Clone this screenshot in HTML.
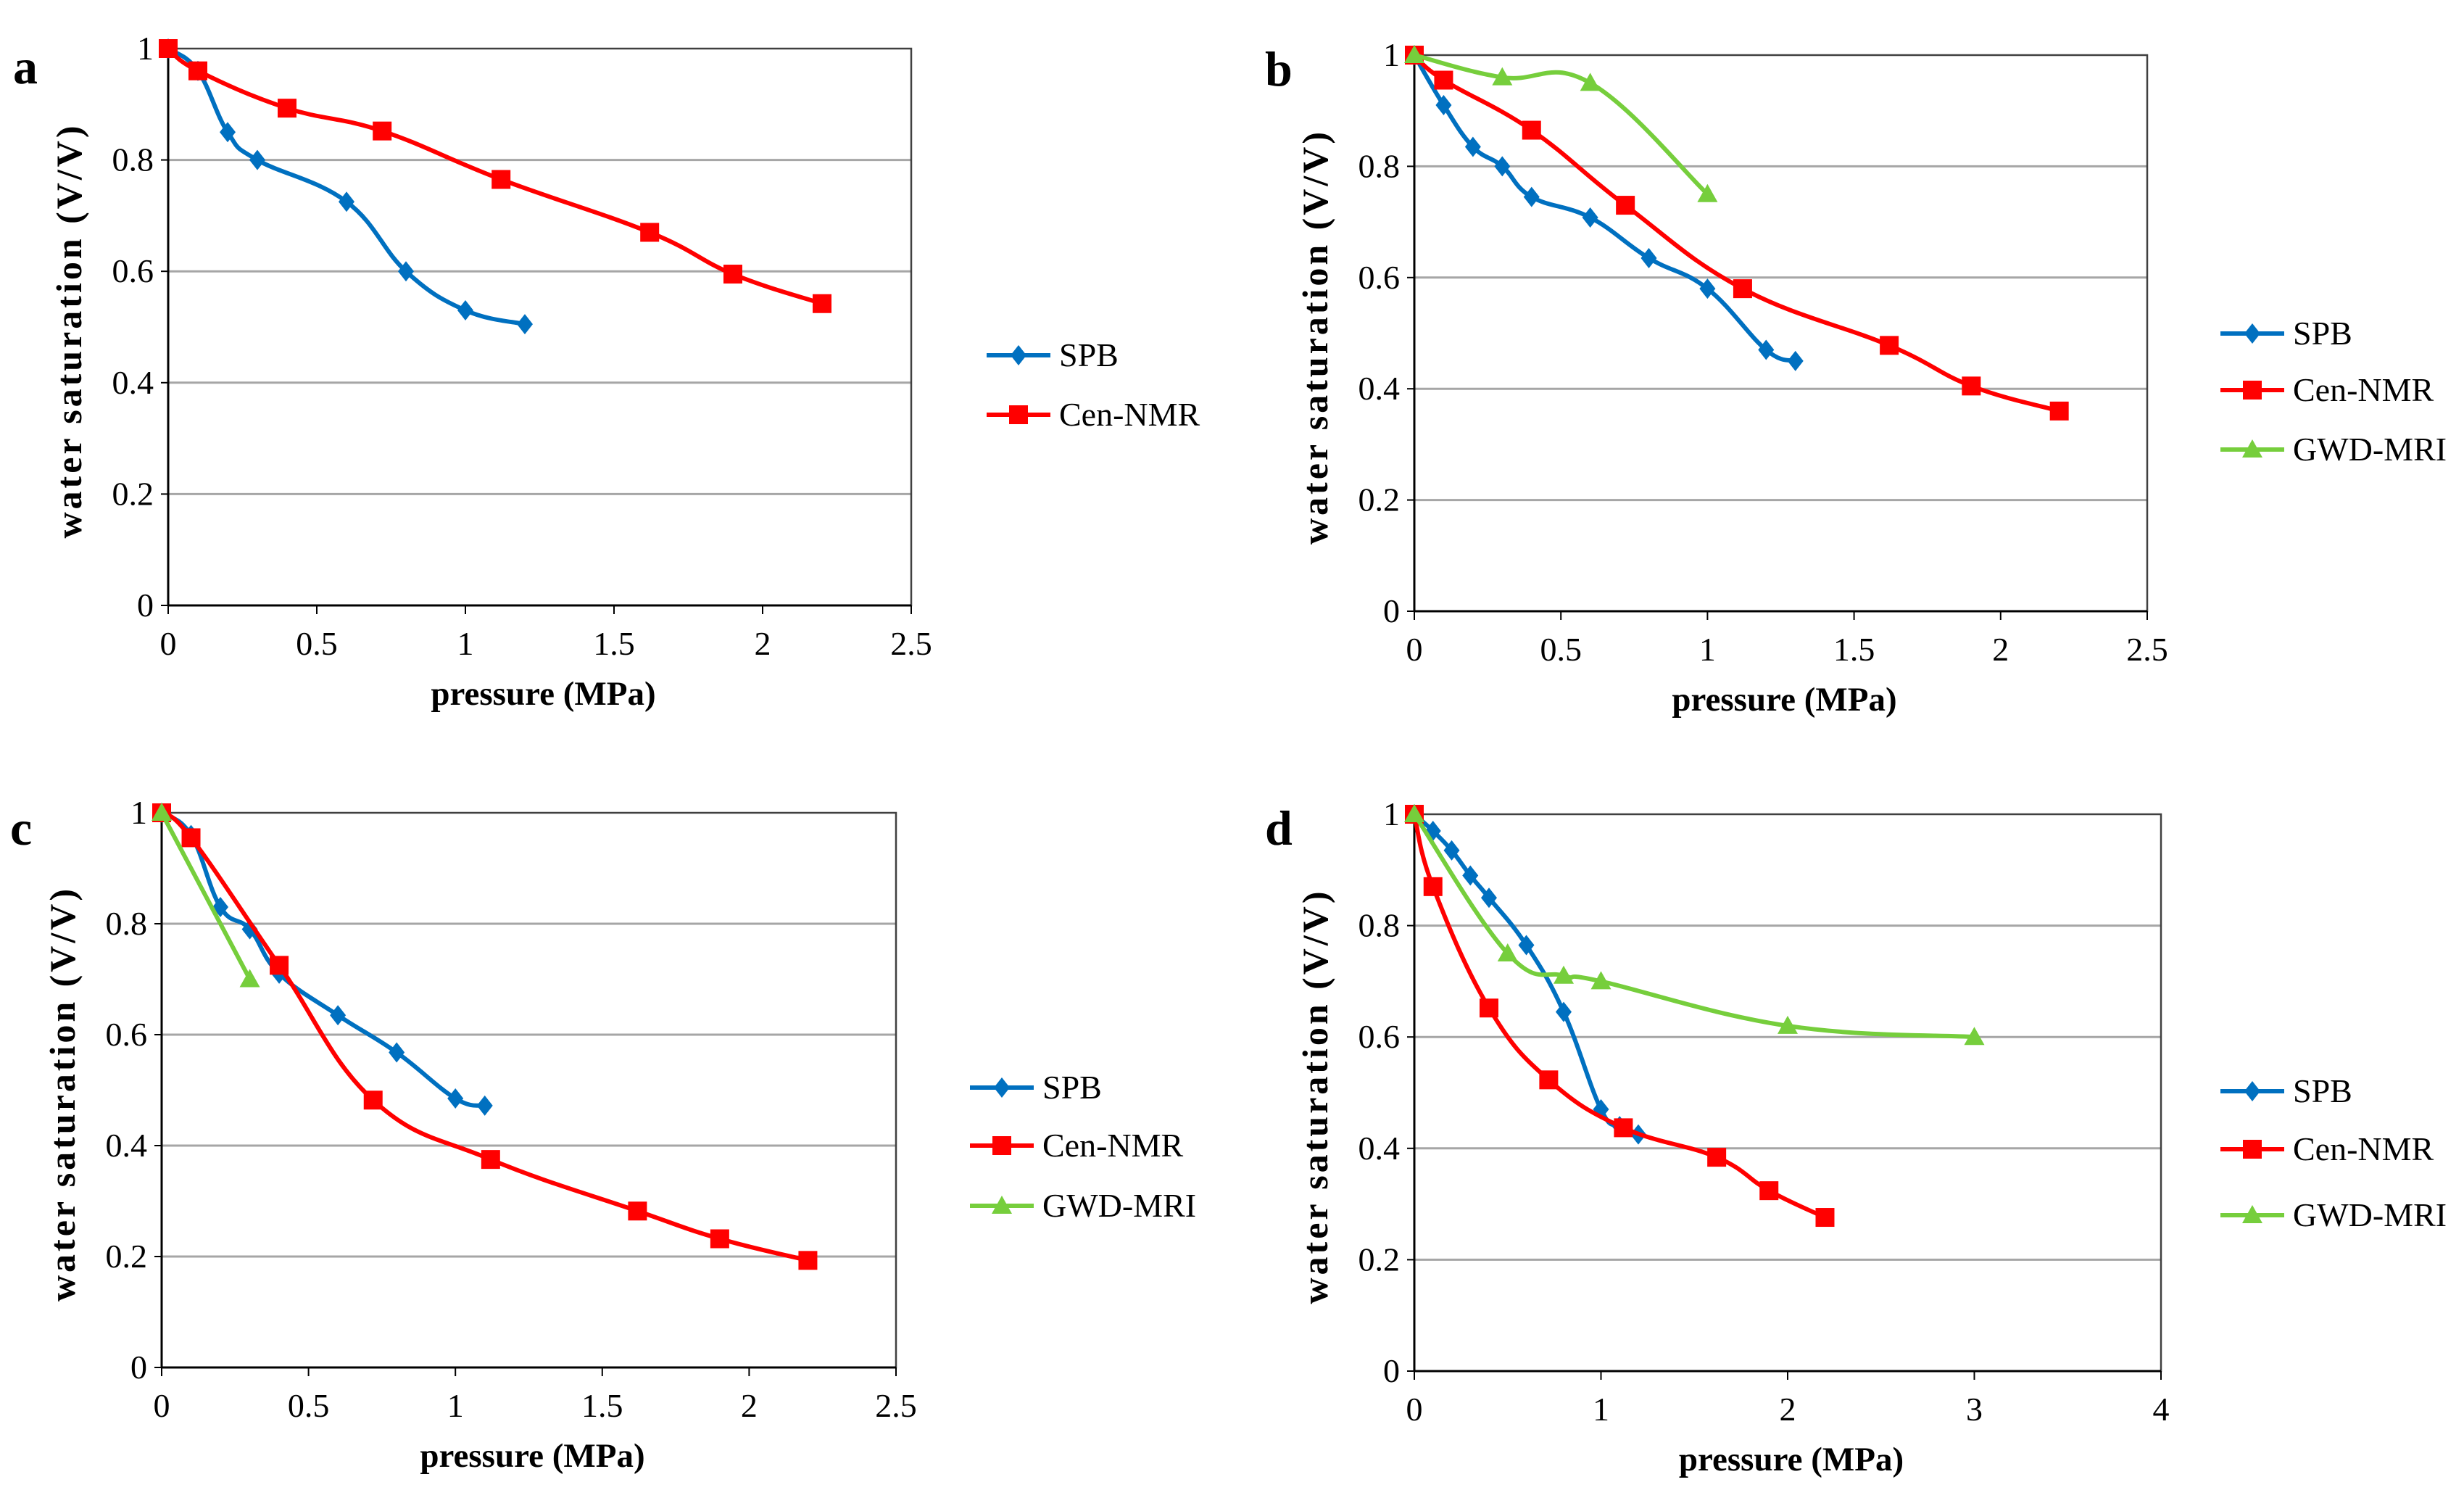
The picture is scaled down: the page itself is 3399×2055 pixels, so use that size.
<!DOCTYPE html>
<html><head><meta charset="utf-8">
<style>
html,body{margin:0;padding:0;background:#fff;}
svg{display:block;font-family:"Liberation Serif",serif;}
</style></head>
<body>
<svg id="fig" width="3399" height="2055" viewBox="0 0 3399 2055" xmlns="http://www.w3.org/2000/svg"></svg>
<script>
// ---- data ----
const aSpbX=[0,0.1,0.2,0.3,0.6,0.8,1.0,1.2];
const aSpbY=[1,0.96,0.85,0.8,0.725,0.6,0.53,0.505];
const aCenX=[0,0.1,0.4,0.72,1.12,1.62,1.9,2.2];
const aCenY=[1,0.96,0.893,0.852,0.765,0.67,0.595,0.542];

const bSpbX=[0,0.1,0.2,0.3,0.4,0.6,0.8,1.0,1.2,1.3];
const bSpbY=[1,0.91,0.835,0.8,0.745,0.708,0.635,0.58,0.47,0.45];
const bCenX=[0,0.1,0.4,0.72,1.12,1.62,1.9,2.2];
const bCenY=[1,0.955,0.865,0.73,0.58,0.478,0.405,0.36];
const bGwdX=[0,0.3,0.6,1.0];
const bGwdY=[1,0.96,0.95,0.75];

const cSpbX=[0,0.1,0.2,0.3,0.4,0.6,0.8,1.0,1.1];
const cSpbY=[1,0.96,0.83,0.79,0.71,0.635,0.568,0.485,0.472];
const cCenX=[0,0.1,0.4,0.72,1.12,1.62,1.9,2.2];
const cCenY=[1,0.955,0.725,0.482,0.375,0.282,0.232,0.193];
const cGwdX=[0,0.3];
const cGwdY=[1,0.7];

const dSpbX=[0,0.1,0.2,0.3,0.4,0.6,0.8,1.0,1.1,1.2];
const dSpbY=[1,0.97,0.935,0.89,0.85,0.765,0.645,0.47,0.44,0.425];
const dCenX=[0,0.1,0.4,0.72,1.12,1.62,1.9,2.2];
const dCenY=[1,0.87,0.652,0.523,0.437,0.384,0.324,0.276];
const dGwdX=[0,0.5,0.8,1.0,2.0,3.0];
const dGwdY=[1,0.75,0.71,0.70,0.62,0.60];

const yTicks=[0,0.2,0.4,0.6,0.8,1];
const yTickLabels=["0","0.2","0.4","0.6","0.8","1"];
const xTicksA=[0,0.5,1,1.5,2,2.5];
const xTickLabelsA=["0","0.5","1","1.5","2","2.5"];
const xTicksD=[0,1,2,3,4];
const xTickLabelsD=["0","1","2","3","4"];

const NS="http://www.w3.org/2000/svg";
const svg=document.getElementById('fig');
function mk(tag,attrs,parent){const e=document.createElementNS(NS,tag);for(const k in attrs)e.setAttribute(k,attrs[k]);(parent||svg).appendChild(e);return e;}
const BLUE="#0070C0",RED="#FF0000",GREEN="#76CE3C";

function smoothPath(pts){
  if(pts.length<3){return "M"+pts.map(p=>p[0]+","+p[1]).join(" L");}
  let d="M"+pts[0][0]+","+pts[0][1];
  const t=0.2;
  for(let i=0;i<pts.length-1;i++){
    const p0=pts[i-1]||pts[i],p1=pts[i],p2=pts[i+1],p3=pts[i+2]||p2;
    const c1=[p1[0]+(p2[0]-p0[0])*t,p1[1]+(p2[1]-p0[1])*t];
    const c2=[p2[0]-(p3[0]-p1[0])*t,p2[1]-(p3[1]-p1[1])*t];
    d+=" C"+c1[0]+","+c1[1]+" "+c2[0]+","+c2[1]+" "+p2[0]+","+p2[1];
  }
  return d;
}
function marker(g,type,x,y,color){
  let m;
  if(type==='diamond'){m=mk('polygon',{points:`${x},${y-14} ${x+11},${y} ${x},${y+14} ${x-11},${y}`,fill:color},g);}
  else if(type==='square'){m=mk('rect',{x:x-13,y:y-13,width:26,height:26,fill:color},g);}
  else {m=mk('polygon',{points:`${x},${y-14} ${x+14},${y+11} ${x-14},${y+11}`,fill:color},g);}
  return m;
}

function panel(cfg){
  const g=mk('g',{});
  
  
  const L=cfg.l,R=cfg.r,T=cfg.t,B=cfg.b;
  const xs=v=>L+(v-cfg.xmin)/(cfg.xmax-cfg.xmin)*(R-L);
  const ys=v=>B-v*(B-T);
  yTicks.forEach((v,i)=>{
    if(v>0&&v<1){const gl=mk('line',{x1:L,x2:R,y1:ys(v),y2:ys(v),stroke:'#a6a6a6','stroke-width':3},g);
      }
    const t=mk('text',{x:L-20,y:ys(v)+15,'text-anchor':'end','font-size':46,fill:'#000'},g);
    t.textContent=yTickLabels[i];
    
    mk('line',{x1:L-10,x2:L,y1:ys(v),y2:ys(v),stroke:'#000','stroke-width':2},g);
  });
  const fr=mk('rect',{x:L,y:T,width:R-L,height:B-T,fill:'none',stroke:'#404040','stroke-width':2.5},g);
  
  mk('line',{x1:L,x2:L,y1:T,y2:B,stroke:'#000','stroke-width':3},g);
  mk('line',{x1:L,x2:R,y1:B,y2:B,stroke:'#000','stroke-width':3},g);
  cfg.xt.forEach((v,i)=>{
    mk('line',{x1:xs(v),x2:xs(v),y1:B,y2:B+12,stroke:'#000','stroke-width':2},g);
    const t=mk('text',{x:xs(v),y:B+68,'text-anchor':'middle','font-size':46,fill:'#000'},g);
    t.textContent=cfg.xl[i];
    
  });
  const xt=mk('text',{x:(L+R)/2+5,y:B+137,'text-anchor':'middle','font-size':47,'font-weight':'bold',fill:'#000'},g);
  xt.textContent='pressure  (MPa)';
  
  const yt=mk('text',{x:0,y:0,'text-anchor':'middle','font-size':50,'font-weight':'bold','letter-spacing':4,fill:'#000',transform:`translate(${L-120},${(T+B)/2+5}) rotate(-90)`},g);
  yt.textContent='water saturation (V/V)';
  
  const lt=mk('text',{x:cfg.lx,y:cfg.ly,'font-size':68,'font-weight':'bold',fill:'#000'},g);
  lt.textContent=cfg.id;
  
  cfg.series.forEach((s,si)=>{
    const sg=mk('g',{},g);
    
    
    const pts=s.x.map((v,i)=>[xs(v),ys(s.y[i])]);
    const p=mk('path',{d:smoothPath(pts),fill:'none',stroke:s.color,'stroke-width':6,'stroke-linejoin':'round'},sg);
    
    pts.forEach(q=>{const m=marker(sg,s.m,q[0],q[1],s.color);
      });
    const ly=cfg.leg[si];
    const le=mk('g',{},g);
    
    mk('line',{x1:cfg.legx,x2:cfg.legx+88,y1:ly,y2:ly,stroke:s.color,'stroke-width':6},le);
    marker(le,s.m,cfg.legx+44,ly,s.color);
    const tt=mk('text',{x:cfg.legx+100,y:ly+15,'font-size':46,fill:'#000'},le);
    tt.textContent=s.name;
  });
}
const S=(name,x,y,color,m)=>({name,x,y,color,m});
panel({id:'a',l:232,r:1257,t:67,b:835,xmin:0,xmax:2.5,xt:xTicksA,xl:xTickLabelsA,lx:18,ly:115,legx:1361,leg:[490,572],
  series:[S('SPB',aSpbX,aSpbY,BLUE,'diamond'),S('Cen-NMR',aCenX,aCenY,RED,'square')]});
panel({id:'b',l:1951,r:2962,t:76,b:843,xmin:0,xmax:2.5,xt:xTicksA,xl:xTickLabelsA,lx:1745,ly:118,legx:3063,leg:[460,538,620],
  series:[S('SPB',bSpbX,bSpbY,BLUE,'diamond'),S('Cen-NMR',bCenX,bCenY,RED,'square'),S('GWD-MRI',bGwdX,bGwdY,GREEN,'tri')]});
panel({id:'c',l:223,r:1236,t:1121,b:1886,xmin:0,xmax:2.5,xt:xTicksA,xl:xTickLabelsA,lx:14,ly:1165,legx:1338,leg:[1500,1580,1663],
  series:[S('SPB',cSpbX,cSpbY,BLUE,'diamond'),S('Cen-NMR',cCenX,cCenY,RED,'square'),S('GWD-MRI',cGwdX,cGwdY,GREEN,'tri')]});
panel({id:'d',l:1951,r:2981,t:1123,b:1891,xmin:0,xmax:4,xt:xTicksD,xl:xTickLabelsD,lx:1745,ly:1165,legx:3063,leg:[1505,1585,1676],
  series:[S('SPB',dSpbX,dSpbY,BLUE,'diamond'),S('Cen-NMR',dCenX,dCenY,RED,'square'),S('GWD-MRI',dGwdX,dGwdY,GREEN,'tri')]});
</script>
</body></html>
